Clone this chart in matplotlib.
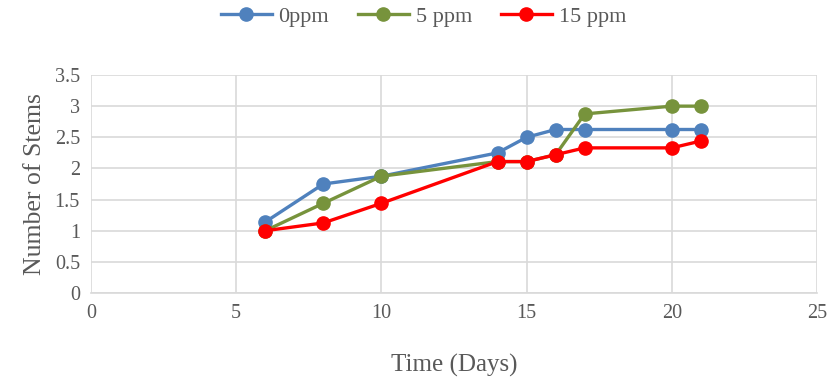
import matplotlib.pyplot as plt

days = [6, 8, 10, 14, 15, 16, 17, 20, 21]
stems_0ppm = [1.14, 1.75, 1.875, 2.25, 2.5, 2.625, 2.625, 2.625, 2.625]
stems_5ppm = [1.0, 1.44, 1.875, 2.11, 2.11, 2.22, 2.875, 3.0, 3.0]
stems_15ppm = [1.0, 1.125, 1.44, 2.11, 2.11, 2.22, 2.33, 2.33, 2.44]

plt.rcParams['font.family'] = ['Liberation Serif', 'DejaVu Serif']

fig = plt.figure(figsize=(8.3, 3.8), dpi=100)
ax = fig.add_axes([91 / 830, 1 - 293 / 380, (817 - 91) / 830, (293 - 75) / 380])

ax.plot(days, stems_0ppm, color='#4f81bd', lw=2.4, marker='o', ms=9.5, label='0ppm', zorder=3)
ax.plot(days, stems_5ppm, color='#77933c', lw=2.4, marker='o', ms=9.5, label='5 ppm', zorder=3)
ax.plot(days, stems_15ppm, color='#ff0000', lw=2.4, marker='o', ms=9.5, label='15 ppm', zorder=3)

ax.set_xlim(0, 25)
ax.set_ylim(0, 3.5)
ax.set_xticks(range(0, 26, 5))
ax.set_yticks([i * 0.5 for i in range(8)])
ax.set_yticklabels(['0', '0.5', '1', '1.5', '2', '2.5', '3', '3.5'])
ax.grid(True, color='#d9d9d9', lw=1.2)
ax.set_axisbelow(True)
for s in ['top', 'right', 'left']:
    ax.spines[s].set_visible(False)
ax.spines['bottom'].set_color('#d9d9d9')
ax.spines['bottom'].set_linewidth(1.2)
ax.tick_params(length=0, labelsize=14.5, colors='#595959', pad=8)

ax.set_xlabel('Time (Days)', fontsize=18, color='#595959', labelpad=22)
ax.set_ylabel('Number of Stems', fontsize=18.5, color='#595959', labelpad=6)

leg = fig.legend(loc='upper center', bbox_to_anchor=(0.51, 1.035), ncol=3, frameon=False,
                 fontsize=16, handlelength=2.3, columnspacing=1.3, handletextpad=0.3)
for t in leg.get_texts():
    t.set_color('#595959')

fig.savefig('out.png', dpi=100)
